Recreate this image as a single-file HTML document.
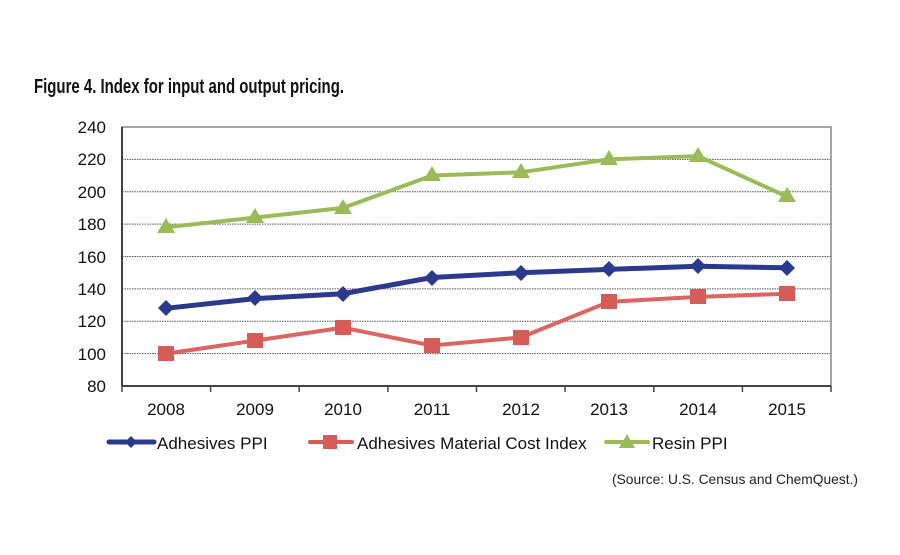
<!DOCTYPE html>
<html><head><style>body{margin:0;background:#fff;width:900px;height:550px;overflow:hidden}</style></head><body>
<svg width="900" height="550" xmlns="http://www.w3.org/2000/svg" font-family="Liberation Sans, sans-serif">
<text x="34" y="93" font-size="20" font-weight="bold" font-family="Liberation Sans Narrow, Liberation Sans, sans-serif" fill="#111" textLength="310" lengthAdjust="spacingAndGlyphs">Figure 4. Index for input and output pricing.</text>
<g stroke="#555" stroke-width="1" stroke-dasharray="1.5,1">
<line x1="122" x2="831" y1="159.4" y2="159.4"/><line x1="122" x2="831" y1="191.8" y2="191.8"/><line x1="122" x2="831" y1="224.1" y2="224.1"/><line x1="122" x2="831" y1="256.5" y2="256.5"/><line x1="122" x2="831" y1="288.9" y2="288.9"/><line x1="122" x2="831" y1="321.2" y2="321.2"/><line x1="122" x2="831" y1="353.6" y2="353.6"/>
</g>
<rect x="122" y="127" width="709" height="259" fill="none" stroke="#888" stroke-width="1.5"/>
<line x1="122" y1="127" x2="122" y2="386" stroke="#444" stroke-width="2"/>
<line x1="122" y1="386" x2="831" y2="386" stroke="#444" stroke-width="2"/>
<g stroke="#444" stroke-width="1.5"><line x1="122" x2="122" y1="386" y2="392"/><line x1="210.6" x2="210.6" y1="386" y2="392"/><line x1="299.2" x2="299.2" y1="386" y2="392"/><line x1="387.9" x2="387.9" y1="386" y2="392"/><line x1="476.5" x2="476.5" y1="386" y2="392"/><line x1="565.1" x2="565.1" y1="386" y2="392"/><line x1="653.8" x2="653.8" y1="386" y2="392"/><line x1="742.4" x2="742.4" y1="386" y2="392"/><line x1="831" x2="831" y1="386" y2="392"/></g>
<g font-size="17" fill="#111" text-anchor="end"><text x="106" y="133">240</text><text x="106" y="165">220</text><text x="106" y="198">200</text><text x="106" y="230">180</text><text x="106" y="263">160</text><text x="106" y="295">140</text><text x="106" y="327">120</text><text x="106" y="360">100</text><text x="106" y="392">80</text></g>
<g font-size="17" fill="#111" text-anchor="middle"><text x="166" y="415">2008</text><text x="255" y="415">2009</text><text x="343" y="415">2010</text><text x="432" y="415">2011</text><text x="521" y="415">2012</text><text x="609" y="415">2013</text><text x="698" y="415">2014</text><text x="787" y="415">2015</text></g>
<polyline fill="none" stroke="#9BBB59" stroke-width="4" points="166,227.3 255,217.6 343,207.9 432,175.5 521,172.3 609,159.3 698,156.1 787,196.6"/>
<g fill="#9BBB59"><polygon points="166,218 157,233 175,233"/><polygon points="255,208 246,223 264,223"/><polygon points="343,199 334,214 352,214"/><polygon points="432,166 423,181 441,181"/><polygon points="521,163 512,178 530,178"/><polygon points="609,150 600,165 618,165"/><polygon points="698,147 689,162 707,162"/><polygon points="787,187 778,202 796,202"/></g>
<polyline fill="none" stroke="#D9534F" stroke-opacity="0.9" stroke-width="4" points="166,353.6 255,340.6 343,327.7 432,345.5 521,337.4 609,301.8 698,296.9 787,293.7"/>
<g fill="#D65C57"><rect x="158" y="346" width="16" height="15"/><rect x="247" y="333" width="16" height="15"/><rect x="335" y="320" width="16" height="15"/><rect x="424" y="338" width="16" height="15"/><rect x="513" y="330" width="16" height="15"/><rect x="601" y="294" width="16" height="15"/><rect x="690" y="289" width="16" height="15"/><rect x="779" y="286" width="16" height="15"/></g>
<polyline fill="none" stroke="#2B3A8F" stroke-width="5" points="166,308.3 255,298.6 343,293.7 432,277.5 521,272.7 609,269.4 698,266.2 787,267.8"/>
<g fill="#2B3A8F"><polygon points="166,300 174,308 166,316 158,308"/><polygon points="255,290 263,298 255,306 247,298"/><polygon points="343,286 351,294 343,302 335,294"/><polygon points="432,270 440,278 432,286 424,278"/><polygon points="521,265 529,273 521,281 513,273"/><polygon points="609,261 617,269 609,277 601,269"/><polygon points="698,258 706,266 698,274 690,266"/><polygon points="787,260 795,268 787,276 779,268"/></g>
<line x1="109" y1="442" x2="154" y2="442" stroke="#2B3A8F" stroke-width="5" stroke-linecap="round"/><polygon points="131,436 137,442 131,448 125,442" fill="#2B3A8F"/>
<text x="157" y="449" font-size="17" fill="#111">Adhesives PPI</text>
<line x1="310" y1="442" x2="352" y2="442" stroke="#D65C57" stroke-width="4" stroke-linecap="round"/><rect x="323" y="435" width="14" height="14" fill="#D65C57"/>
<text x="357" y="449" font-size="17" fill="#111">Adhesives Material Cost Index</text>
<line x1="606" y1="442" x2="648" y2="442" stroke="#9BBB59" stroke-width="4" stroke-linecap="round"/><polygon points="627,434 619,448 635,448" fill="#9BBB59"/>
<text x="652" y="449" font-size="17" fill="#111">Resin PPI</text>
<text x="612" y="484" font-size="14" fill="#222" font-family="Liberation Sans Narrow, Liberation Sans, sans-serif" textLength="246" lengthAdjust="spacingAndGlyphs">(Source: U.S. Census and ChemQuest.)</text>
</svg>
</body></html>
